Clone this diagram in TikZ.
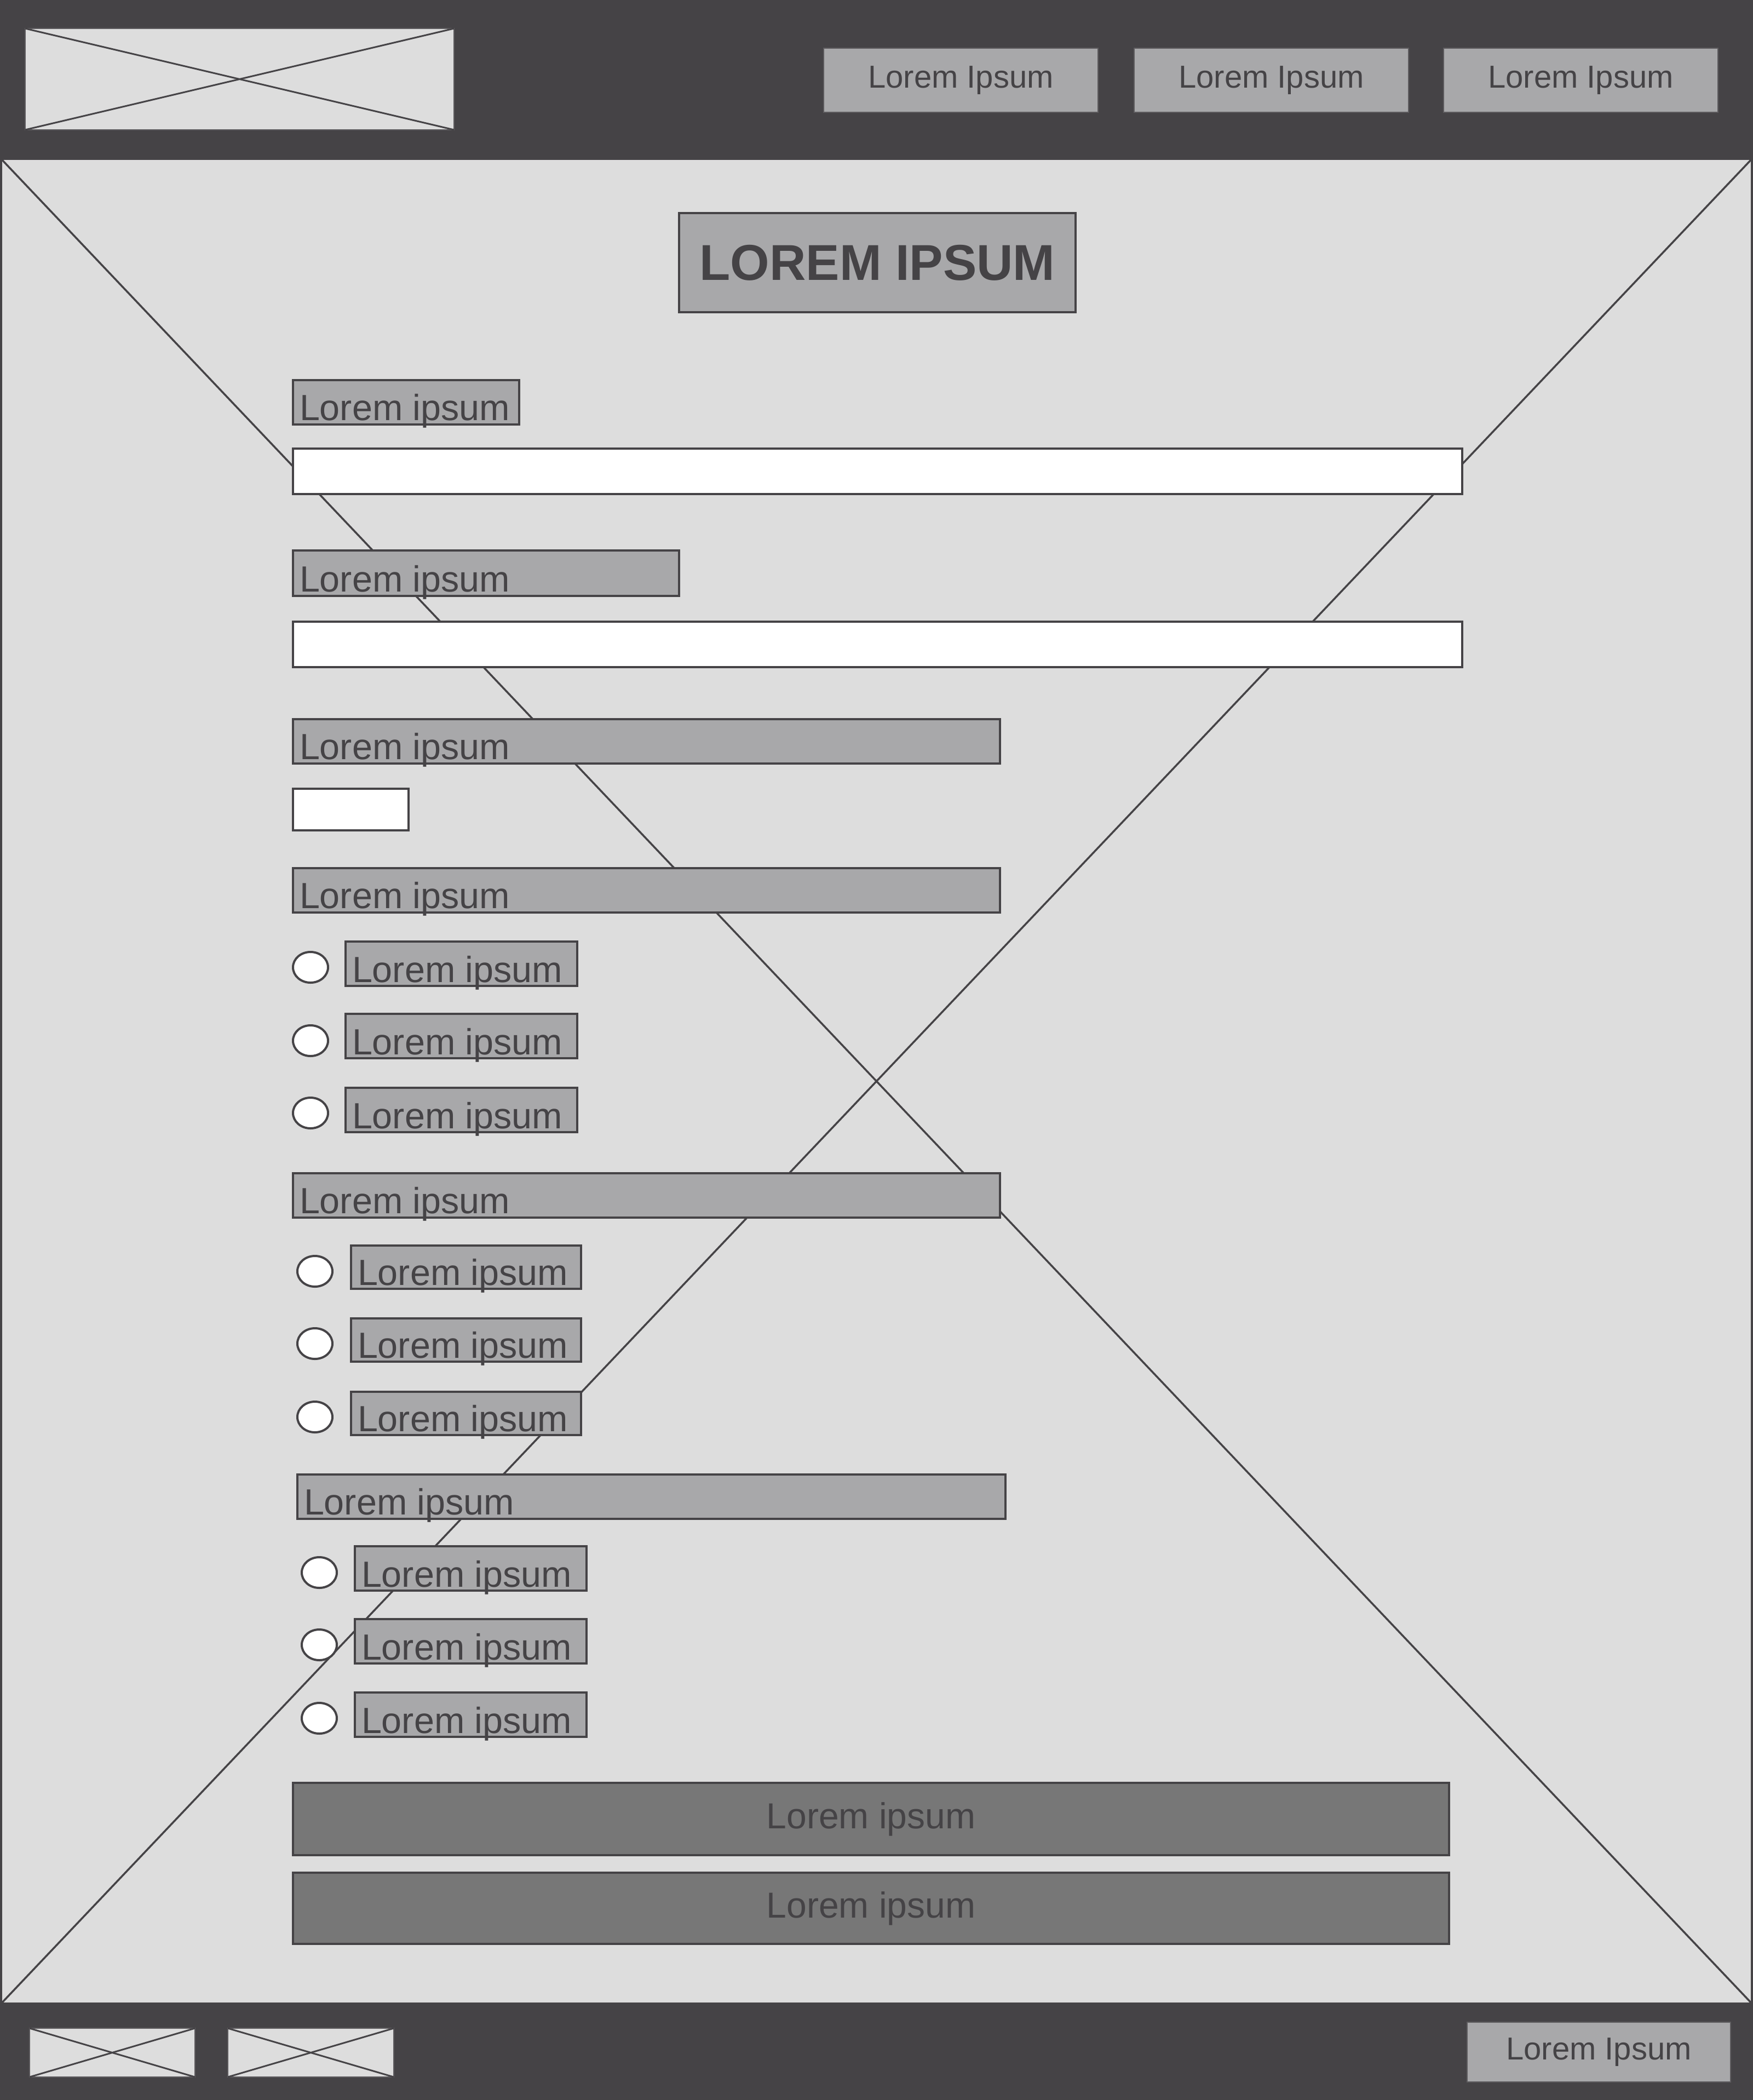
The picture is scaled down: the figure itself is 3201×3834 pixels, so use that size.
\documentclass[tikz,border=0pt]{standalone}
\usepackage{fontspec}
\setmainfont{Liberation Sans}
\usetikzlibrary{shapes.geometric}
\definecolor{dark}{HTML}{454346}
\definecolor{bgc}{HTML}{DDDDDD}
\definecolor{labc}{HTML}{A8A8AA}
\definecolor{btnc}{HTML}{777777}
\definecolor{edgec}{HTML}{5E5C5F}
\begin{document}
\begin{tikzpicture}[x=1pt,y=-1pt,
  every node/.style={inner sep=0pt, outer sep=0pt},
  panel/.style={fill=dark, draw=none, anchor=north west},
  mainarea/.style={fill=bgc, draw=dark, line width=4pt, anchor=north west},
  xline/.style={draw=dark, line width=3.5pt},
  imgbox/.style={fill=bgc, draw=edgec, line width=2pt, anchor=north west},
  imgx/.style={draw=dark, line width=3pt},
  navbtn/.style={fill=labc, draw=edgec, line width=2.5pt, anchor=north west, text=dark, font=\fontsize{58}{70}\selectfont},
  titlebox/.style={fill=labc, draw=dark, line width=4pt, anchor=north west, text=dark, font=\fontsize{92}{110}\selectfont\bfseries},
  labbox/.style={fill=labc, draw=dark, line width=4pt, anchor=north west},
  labtext/.style={anchor=base west, text=dark, font=\fontsize{66.5}{80}\selectfont},
  field/.style={fill=white, draw=dark, line width=4pt, anchor=north west},
  radio/.style={ellipse, fill=white, draw=dark, line width=4pt, minimum width=64pt, minimum height=56pt},
  bigbtn/.style={fill=btnc, draw=dark, line width=4pt, anchor=north west, text=dark, font=\fontsize{66}{80}\selectfont},
]
\useasboundingbox (0,0) rectangle (3201,3834);
% header and footer bands
\node[panel, minimum width=3201pt, minimum height=290pt] (header) at (0,0) {};
\node[panel, minimum width=3201pt, minimum height=176pt] (footer) at (0,3658) {};
% main area with big cross
\node[mainarea, minimum width=3197pt, minimum height=3368pt] (main) at (2,290) {};
\draw[xline] (main.north west) -- (main.south east);
\draw[xline] (main.north east) -- (main.south west);
% logo
\node[imgbox, minimum width=783pt, minimum height=185pt] (logo) at (46,52) {};
\draw[imgx] (logo.north west) -- (logo.south east);
\draw[imgx] (logo.north east) -- (logo.south west);
% nav buttons
\node[navbtn, minimum width=501pt, minimum height=117pt] (nav1) at (1504,88) {Lorem Ipsum};
\node[navbtn, minimum width=501pt, minimum height=117pt] (nav2) at (2071,88) {Lorem Ipsum};
\node[navbtn, minimum width=501pt, minimum height=117pt] (nav3) at (2636,88) {Lorem Ipsum};
% title
\node[titlebox, minimum width=724pt, minimum height=181pt] (title) at (1240,389) {LOREM IPSUM};
% label 1 + field 1
\node[labbox, minimum width=413pt, minimum height=81pt] (lab1) at (535,694) {};
\node[labtext] (lab1t) at ([xshift=12pt,yshift=8pt]lab1.south west) {Lorem ipsum};
\node[field, minimum width=2135pt, minimum height=83pt] (f1) at (535,819) {};
% label 2 + field 2
\node[labbox, minimum width=705pt, minimum height=83pt] (lab2) at (535,1005) {};
\node[labtext] (lab2t) at ([xshift=12pt,yshift=8pt]lab2.south west) {Lorem ipsum};
\node[field, minimum width=2135pt, minimum height=83pt] (f2) at (535,1135) {};
% label 3 + small field
\node[labbox, minimum width=1291pt, minimum height=81pt] (lab3) at (535,1313) {};
\node[labtext] (lab3t) at ([xshift=12pt,yshift=8pt]lab3.south west) {Lorem ipsum};
\node[field, minimum width=211pt, minimum height=76pt] (f3) at (535,1440) {};
% label 4 + radio group 1
\node[labbox, minimum width=1291pt, minimum height=81pt] (lab4) at (535,1585) {};
\node[labtext] (lab4t) at ([xshift=12pt,yshift=8pt]lab4.south west) {Lorem ipsum};
\node[radio] (r1a) at (567,1766) {};
\node[radio] (r1b) at (567,1900) {};
\node[radio] (r1c) at (567,2032) {};
\node[labbox, minimum width=423pt, minimum height=81pt] (o1a) at (631,1719) {};
\node[labtext] (o1at) at ([xshift=12pt,yshift=7pt]o1a.south west) {Lorem ipsum};
\node[labbox, minimum width=423pt, minimum height=81pt] (o1b) at (631,1851) {};
\node[labtext] (o1bt) at ([xshift=12pt,yshift=7pt]o1b.south west) {Lorem ipsum};
\node[labbox, minimum width=423pt, minimum height=81pt] (o1c) at (631,1986) {};
\node[labtext] (o1ct) at ([xshift=12pt,yshift=7pt]o1c.south west) {Lorem ipsum};
% label 5 + radio group 2
\node[labbox, minimum width=1291pt, minimum height=81pt] (lab5) at (535,2142) {};
\node[labtext] (lab5t) at ([xshift=12pt,yshift=8pt]lab5.south west) {Lorem ipsum};
\node[radio] (r2a) at (575,2321) {};
\node[radio] (r2b) at (575,2453) {};
\node[radio] (r2c) at (575,2587) {};
\node[labbox, minimum width=420pt, minimum height=79pt] (o2a) at (641,2274) {};
\node[labtext] (o2at) at ([xshift=12pt,yshift=7pt]o2a.south west) {Lorem ipsum};
\node[labbox, minimum width=420pt, minimum height=79pt] (o2b) at (641,2407) {};
\node[labtext] (o2bt) at ([xshift=12pt,yshift=7pt]o2b.south west) {Lorem ipsum};
\node[labbox, minimum width=420pt, minimum height=79pt] (o2c) at (641,2541) {};
\node[labtext] (o2ct) at ([xshift=12pt,yshift=7pt]o2c.south west) {Lorem ipsum};
% label 6 + radio group 3
\node[labbox, minimum width=1293pt, minimum height=81pt] (lab6) at (543,2692) {};
\node[labtext] (lab6t) at ([xshift=12pt,yshift=8pt]lab6.south west) {Lorem ipsum};
\node[radio] (r3a) at (583,2871) {};
\node[radio] (r3b) at (583,3003) {};
\node[radio] (r3c) at (583,3137) {};
\node[labbox, minimum width=423pt, minimum height=81pt] (o3a) at (648,2823) {};
\node[labtext] (o3at) at ([xshift=12pt,yshift=7pt]o3a.south west) {Lorem ipsum};
\node[labbox, minimum width=423pt, minimum height=81pt] (o3b) at (648,2956) {};
\node[labtext] (o3bt) at ([xshift=12pt,yshift=7pt]o3b.south west) {Lorem ipsum};
\node[labbox, minimum width=423pt, minimum height=81pt] (o3c) at (648,3090) {};
\node[labtext] (o3ct) at ([xshift=12pt,yshift=7pt]o3c.south west) {Lorem ipsum};
% big buttons
\node[bigbtn, minimum width=2111pt, minimum height=132pt] (b1) at (535,3255) {Lorem ipsum};
\node[bigbtn, minimum width=2111pt, minimum height=130pt] (b2) at (535,3419) {Lorem ipsum};
% footer images
\node[imgbox, minimum width=302pt, minimum height=89pt] (fimg1) at (54,3703) {};
\draw[imgx] (fimg1.north west) -- (fimg1.south east);
\draw[imgx] (fimg1.north east) -- (fimg1.south west);
\node[imgbox, minimum width=303pt, minimum height=89pt] (fimg2) at (416,3703) {};
\draw[imgx] (fimg2.north west) -- (fimg2.south east);
\draw[imgx] (fimg2.north east) -- (fimg2.south west);
% footer button
\node[navbtn, minimum width=481pt, minimum height=109pt] (fbtn) at (2679,3692) {Lorem Ipsum};
\end{tikzpicture}
\end{document}
